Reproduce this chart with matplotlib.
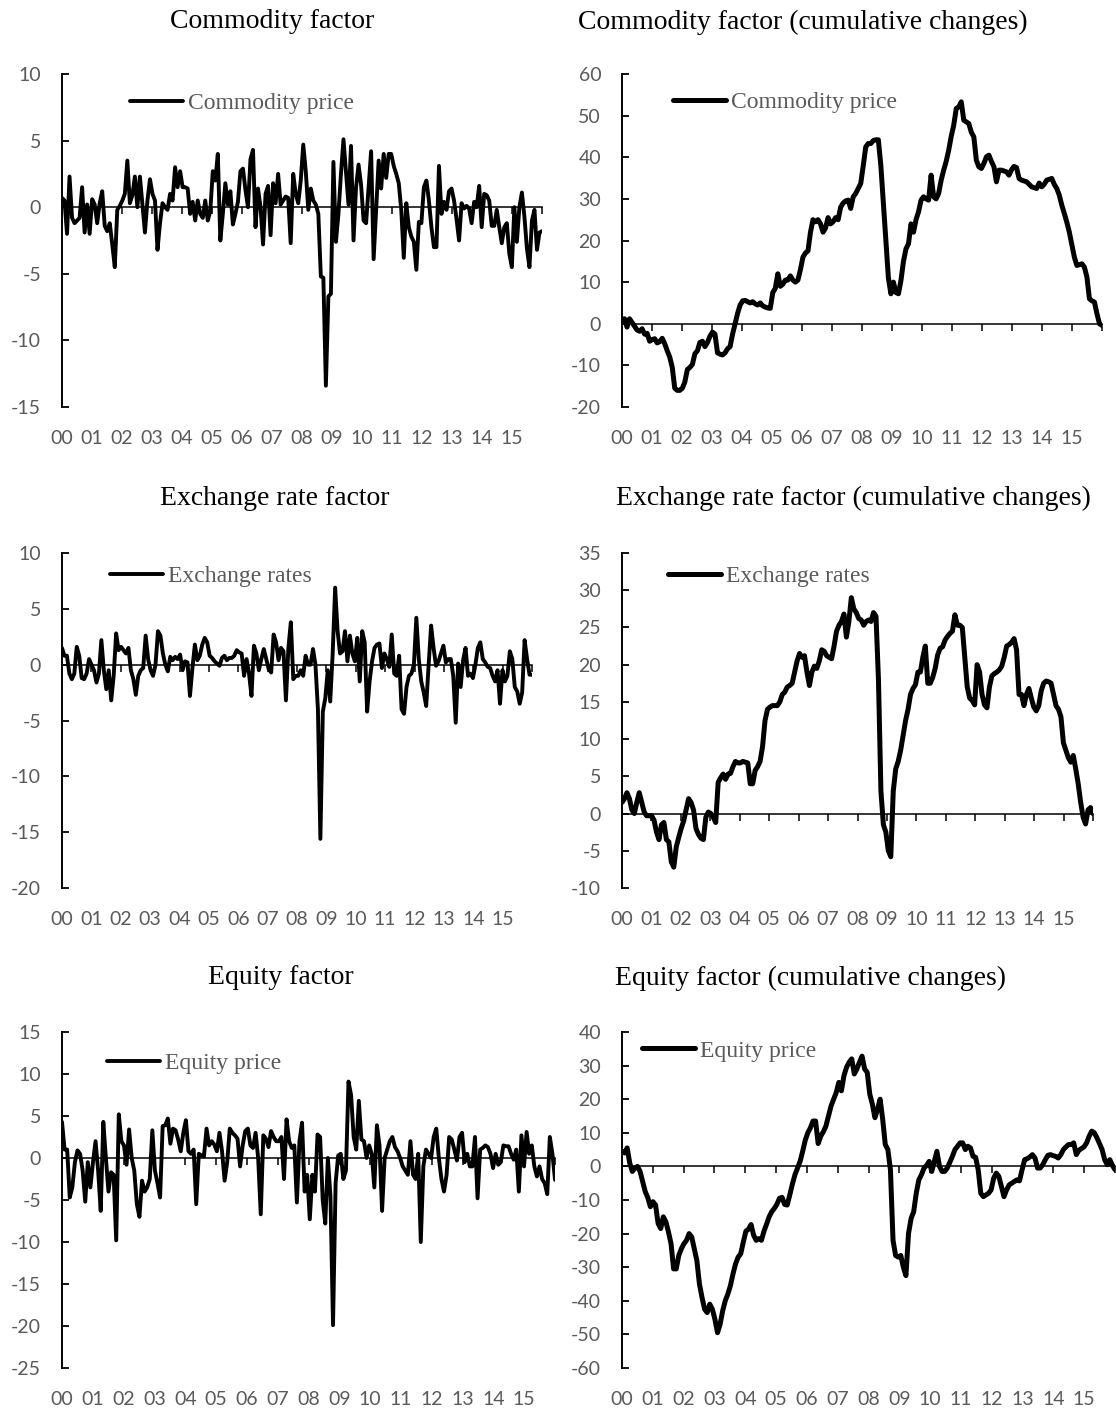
import numpy as np
import matplotlib
matplotlib.use("Agg")
import matplotlib.pyplot as plt

plt.rcParams["font.family"] = ["Lato", "DejaVu Sans"]
plt.rcParams["axes.unicode_minus"] = False

W, H = 1116, 1414
GRAY = "#595959"

# year labels on the x axis
year_labels = ["%02d" % (y % 100) for y in range(2000, 2016)]

# monthly factor changes, Jan 2000 - Dec 2015
commodity_chg = [
    0.7, 0.5, -2.0, 2.3, -0.8, -1.2, -1.0, -0.8, 1.5, -1.9, 0.2, -2.0,
    0.6, 0.2, -1.2, 0.3, 1.2, -1.4, -1.8, -1.2, -2.8, -4.5, -0.2, 0.1,
    0.5, 1.0, 3.5, 0.3, 0.9, 2.3, 0.0, 2.3, 0.2, -1.9, 0.5, 2.1,
    1.0, 0.5, -3.2, -1.2, 0.3, 0.0, -0.2, 1.0, 0.5, 3.0, 1.5, 2.7,
    1.5, 1.5, 1.4, -0.5, 0.4, -1.0, 0.5, -0.5, -0.8, 0.5, -1.0, -0.3,
    2.7, 2.0, 4.0, -2.5, -0.5, 1.8, 0.2, 1.2, -1.3, -0.5, 0.4, 2.7,
    2.9, 1.3, 0.0, 3.6, 4.3, -1.5, 1.4, 0.0, -2.8, 1.0, 1.6, -2.1,
    1.8, 0.3, 2.5, 0.2, 0.5, 0.8, 0.7, -2.7, 2.5, 1.0, 0.3, 2.0,
    4.7, 2.7, -0.2, 1.4, 0.5, 0.2, -0.5, -5.2, -5.3, -13.4, -6.7, -6.5,
    3.4, -2.6, -0.5, 2.5, 5.1, 2.7, 0.2, 4.6, -2.5, 1.5, 3.2, 1.7,
    -1.0, -1.2, 1.5, 4.2, -3.9, -0.2, 3.5, 1.4, 4.0, 2.2, 4.0, 4.0,
    3.1, 2.5, 1.8, -0.2, -3.8, 0.3, -1.5, -2.2, -2.6, -4.7, -1.1, -1.2,
    1.5, 2.0, 0.5, -1.5, -3.0, -3.0, 3.1, -0.5, 0.4, -0.2, 1.2, 1.4,
    0.5, -0.9, -2.5, 0.3, -0.1, 0.1, -0.1, -1.2, 0.4, 0.0, 1.6, -1.5,
    1.0, 0.9, 0.5, -1.4, -1.4, -0.2, -1.5, -2.7, -1.5, -1.2, -3.5, -4.5,
    0.0, -2.6, 0.0, 1.1, -0.7, -3.1, -4.5, -1.0, -0.2, -3.2, -1.9, -1.8,
]

commodity_cum = [
    1.0, 1.2, -0.8, 1.2, 0.3, -0.6, -1.5, -1.8, -1.2, -2.5, -2.3, -4.2,
    -3.8, -3.6, -4.6, -4.3, -3.5, -4.8, -6.5, -8.0, -10.5, -15.5, -16.0, -16.0,
    -15.5, -14.0, -11.0, -10.5, -9.8, -7.2, -6.5, -4.5, -4.2, -5.5, -4.5, -3.0,
    -2.0, -2.5, -7.0, -7.3, -7.5, -7.0, -6.0, -5.5, -2.5, 0.0, 2.5, 4.5,
    5.5, 5.6, 5.3, 5.0, 5.3, 4.8, 4.5, 5.0, 4.3, 4.0, 3.8, 3.7,
    7.5, 8.5, 12.0, 9.0, 9.5, 10.5, 10.5, 11.5, 10.5, 10.0, 10.5, 13.0,
    16.0, 17.0, 17.5, 22.0, 25.0, 24.5, 25.0, 24.0, 22.0, 23.0, 25.5, 24.0,
    24.5, 25.5, 25.0, 28.0, 29.0, 29.5, 29.7, 27.7, 30.5, 31.3, 32.5, 33.7,
    38.0, 42.5, 43.3, 43.3, 44.0, 44.2, 44.2, 38.0, 29.0, 20.0, 11.0, 7.2,
    10.0, 7.5, 7.2, 10.4, 15.0, 18.0, 19.2, 24.0, 22.0, 25.0, 26.9, 29.7,
    30.5, 30.0, 29.7, 35.7, 30.5, 30.0, 31.3, 34.5, 36.9, 39.0, 41.7, 45.0,
    47.7, 51.7, 52.1, 53.3, 48.9, 48.5, 48.1, 46.0, 44.9, 39.3, 37.7, 37.3,
    38.5, 40.1, 40.5, 39.0, 37.7, 34.1, 36.9, 36.9, 36.7, 36.5, 35.7, 37.0,
    37.8, 37.5, 34.9, 34.5, 34.3, 34.1, 33.5, 32.9, 32.7, 32.5, 33.8, 32.9,
    33.5, 34.5, 34.7, 34.9, 33.5, 32.5, 30.9, 28.5, 26.5, 24.4, 22.0, 19.0,
    16.0, 14.0, 14.2, 14.4, 13.6, 11.2, 6.0, 5.5, 5.2, 2.4, 0.0, -0.4,
]

fx_chg = [
    1.5, 0.8, 0.8, -0.8, -1.3, -0.8, 1.6, 0.8, -1.2, -1.3, -0.8, 0.5,
    0.0, -0.5, -1.6, -0.8, 2.2, -0.5, -2.2, -0.5, -3.2, -1.0, 2.8, 1.3,
    1.6, 1.3, 1.0, 1.5, -0.5, -1.3, -2.7, -1.0, -0.5, -0.3, 2.6, 0.5,
    -0.5, -1.0, 0.0, 3.0, 2.6, 1.0, 0.0, -0.6, 0.7, 0.4, 0.7, 0.5,
    0.9, -0.5, 0.3, 0.2, -2.8, -0.3, 1.8, 0.4, 0.8, 1.8, 2.4, 2.0,
    0.8, 0.6, 0.3, 0.1, -0.1, 0.6, 0.8, 0.4, 0.6, 0.6, 0.8, 1.3,
    1.1, 1.0, -1.0, 0.5, -0.8, -2.8, 1.7, 1.0, -0.5, 0.5, 1.4, 0.5,
    -0.4, -0.7, 2.7, 2.0, 0.4, 1.5, 1.2, -3.2, 1.5, 3.8, -1.3, -1.0,
    -1.0, -0.5, -1.0, 0.8, 0.0, 0.0, 1.4, 0.0, -4.0, -15.6, -4.2, -3.0,
    -0.5, -3.3, 1.0, 6.9, 3.0, 1.0, 1.2, 3.0, 0.3, 2.6, 1.0, 0.3,
    2.4, -1.5, 3.0, 2.0, -4.2, -1.5, 0.3, 1.5, 1.8, 1.9, -0.3, 1.0,
    0.5, -0.2, 2.7, -0.8, -1.0, 0.8, -4.0, -4.4, -2.0, -1.0, -0.8, 0.0,
    4.2, 0.5, -1.5, -2.5, -3.7, 0.0, 3.5, 1.5, -0.1, 0.3, 1.0, 1.7,
    0.2, 0.5, 0.5, -1.0, -5.2, 0.1, -2.0, 0.4, 1.5, -1.0, -0.8, -1.2,
    0.0, 1.5, 2.0, 0.5, 0.2, -0.2, -0.3, -1.0, -1.5, -0.5, -3.5, -0.5,
    -1.5, -1.0, 1.2, 0.5, -2.0, -2.4, -3.5, -2.5, 2.2, 0.5, -0.9, -0.9,
]

fx_cum = [
    1.5, 2.0, 2.8, 2.0, 0.5, 0.0, 1.5, 2.8, 1.5, 0.2, -0.3, -0.3,
    -0.3, -0.9, -2.5, -3.5, -1.5, -1.2, -3.5, -3.8, -6.5, -7.2, -4.5, -3.2,
    -2.0, -1.0, 0.5, 2.0, 1.5, 0.5, -2.0, -2.8, -3.3, -3.5, -0.5, 0.2,
    0.0, -0.5, -1.2, 4.2, 4.8, 5.3, 4.6, 5.3, 5.4, 6.3, 7.0, 6.8,
    6.8, 7.0, 6.9, 6.8, 4.0, 4.0, 5.8, 6.3, 7.0, 9.0, 12.5, 14.0,
    14.3, 14.5, 14.5, 14.5, 15.0, 16.0, 16.3, 17.0, 17.2, 17.5, 19.0, 20.5,
    21.5, 21.0, 21.2, 19.0, 17.2, 19.0, 19.8, 19.5, 20.5, 22.0, 21.8, 21.2,
    21.0, 20.8, 22.5, 24.5, 25.3, 25.8, 26.8, 23.7, 25.8, 29.0, 27.5, 27.0,
    26.2, 26.0, 25.3, 25.8, 26.0, 25.8, 27.0, 26.5, 18.0, 3.0, -1.5, -2.5,
    -5.0, -5.8, 3.0, 6.0, 7.0, 8.5, 10.5, 12.5, 14.0, 16.0, 16.8, 17.3,
    19.0, 19.0, 21.0, 22.5, 17.5, 17.5, 18.3, 19.5, 21.3, 22.2, 22.4, 23.3,
    23.8, 24.2, 24.5, 26.7, 25.3, 25.3, 25.0, 21.0, 17.0, 15.5, 15.2, 14.6,
    20.0, 19.0, 16.0, 14.6, 14.2, 17.0, 18.5, 18.8, 19.0, 19.3, 19.8, 21.0,
    22.5, 22.7, 23.0, 23.5, 22.0, 16.0, 16.0, 14.5, 16.0, 16.8, 15.5, 14.3,
    13.8, 14.5, 16.5, 17.5, 17.8, 17.7, 17.5, 16.0, 14.5, 14.0, 13.0, 9.5,
    8.5, 7.5, 6.9, 7.8, 6.0, 4.0, 1.5, -0.5, -1.4, 0.5, 0.8, 0.0,
]

equity_chg = [
    4.3, 1.0, 1.0, -4.7, -3.5, -0.5, 0.9, 0.5, -1.5, -5.2, -0.5, -3.5,
    -0.5, 2.0, -1.5, -6.3, 4.3, 0.0, -4.0, -1.7, -2.0, -9.8, 5.2, 2.0,
    1.5, -0.8, 3.4, 0.0, -1.5, -5.5, -7.0, -2.7, -4.0, -3.5, -2.5, 3.3,
    -1.5, -3.0, -4.7, 3.8, 3.9, 4.7, 1.7, 3.5, 3.3, 2.2, 0.8, 3.0,
    4.5, 0.8, 0.5, 1.0, -5.5, 0.5, 0.3, 0.2, 3.5, 1.5, 2.0, 1.6,
    0.8, 3.0, 0.8, -2.7, -0.5, 3.5, 3.0, 2.7, 2.3, -1.0, 1.5, 3.2,
    3.5, 1.5, 1.2, 3.0, 0.0, -6.7, 2.7, 2.3, 1.3, 3.2, 2.5, 2.0,
    2.0, 2.5, -2.5, 4.6, 2.0, 1.2, 1.5, -5.3, 2.0, 4.2, -4.0, -2.0,
    -7.3, -2.0, -4.0, 2.8, 2.5, -5.0, -7.8, 0.0, -4.5, -19.9, -3.0, 0.3,
    0.5, -2.5, -1.5, 9.1, 7.5, 2.5, 1.0, 6.8, 2.2, 2.0, 0.0, 1.5,
    0.5, -3.5, 3.9, 1.5, -6.3, 0.0, 1.0, 2.0, 2.5, 1.3, 0.8, 0.0,
    -1.0, -1.5, -2.0, 2.0, -2.0, -2.5, 0.5, -10.0, -1.0, 1.0, 0.5, 0.0,
    2.5, 3.5, 0.0, -2.5, -4.0, -2.0, 2.5, 2.2, 1.0, -0.3, 2.5, 3.0,
    -0.5, 0.5, -1.0, -1.0, 2.5, -4.8, 1.0, 1.2, 1.5, 1.3, 0.5, -1.2,
    0.5, -0.8, -0.5, 1.5, 1.4, 1.4, 0.5, -0.2, 1.0, -4.0, 2.7, -1.0,
    3.1, 0.5, 1.5, -1.0, -2.2, -1.0, -2.5, -3.0, -4.3, 2.5, 0.5, -2.6,
]

equity_cum = [
    4.5, 4.0, 5.5, 1.0, -1.5, -0.5, 0.0, -1.5, -4.5, -7.5, -9.3, -12.0,
    -10.5, -11.5, -17.0, -18.5, -15.0, -16.5, -19.5, -23.0, -30.5, -30.5, -26.5, -24.5,
    -23.0, -22.0, -20.0, -21.0, -24.5, -28.0, -35.0, -39.0, -42.5, -43.5, -41.0, -42.5,
    -45.5, -49.5, -47.0, -43.0, -40.0, -38.0, -35.5, -32.0, -29.0, -27.0, -26.0, -22.5,
    -19.3, -18.7, -17.3, -20.5, -22.0, -21.5, -22.0, -19.3, -17.2, -15.0, -13.5, -12.5,
    -11.3, -9.5, -9.2, -11.3, -11.5, -8.5, -5.3, -2.5, -0.5, 1.5, 4.5, 7.8,
    10.0, 11.5, 13.5, 13.5, 6.8, 9.0, 10.3, 12.0, 15.0, 18.0, 20.0, 22.0,
    25.0, 22.5, 27.0, 29.5, 31.0, 32.0, 27.5, 29.0, 31.0, 32.8, 29.0, 28.0,
    21.5, 18.5, 14.5, 17.0, 20.0, 14.0, 6.5, 5.0, -1.0, -22.0, -26.5, -27.0,
    -26.5, -30.0, -32.5, -20.0, -15.5, -13.5, -8.0, -4.0, -2.5, -0.5, 0.3, 1.5,
    -1.5, 1.5, 4.5, 0.0, -1.5, -1.5, -0.5, 1.2, 3.0, 5.0, 6.0, 7.0,
    7.0, 5.0, 6.0, 5.5, 3.0, 2.7, -1.0, -8.0, -9.0, -8.5, -8.0, -7.0,
    -3.5, -2.0, -3.0, -6.0, -9.0, -7.0, -5.5, -5.0, -4.5, -4.0, -4.3, -1.0,
    2.0, 2.3, 2.8, 3.5, 2.5, -0.5, -0.5, 0.5, 2.0, 3.3, 3.5, 3.2,
    3.0, 2.5, 3.5, 5.0, 5.8, 6.5, 6.5, 7.0, 3.5, 4.8, 5.3, 5.8,
    7.0, 9.0, 10.5, 10.0, 8.5, 6.8, 5.0, 2.0, 0.5, 2.0, 0.3, -1.0,
]

titles = ["Commodity factor", "Commodity factor (cumulative changes)",
          "Exchange rate factor", "Exchange rate factor (cumulative changes)",
          "Equity factor", "Equity factor (cumulative changes)"]
legend_names = ["Commodity price", "Commodity price",
                "Exchange rates", "Exchange rates",
                "Equity price", "Equity price"]
series = [commodity_chg, commodity_cum, fx_chg, fx_cum, equity_chg, equity_cum]
y_ranges = [(-15, 10, 5), (-20, 60, 10), (-20, 10, 5),
            (-10, 35, 5), (-25, 15, 5), (-60, 40, 10)]

# layout in pixels: axes box (x0, x1, y0, y1), title centre, legend line start
boxes = [(62, 542, 74, 407), (622, 1102, 74, 407),
         (62, 532, 553, 888), (622, 1093, 553, 888),
         (62, 555, 1032, 1368), (622, 1115, 1032, 1368)]
title_pos = [(272, 22), (803, 22), (275, 498), (853, 498), (281, 978), (811, 978)]
legend_pos = [(130, 103), (673, 102), (110, 576), (668, 576), (107, 1063), (642, 1051)]
line_w = [2.8, 3.6, 2.8, 3.6, 2.8, 3.6]

fig = plt.figure(figsize=(W / 100, H / 100), dpi=100)

for i in range(6):
    x0, x1, y0, y1 = boxes[i]
    ax = fig.add_axes([x0 / W, 1 - y1 / H, (x1 - x0) / W, (y1 - y0) / H])
    vals = series[i]
    x = np.linspace(2000, 2016, len(vals))
    ax.plot(x, vals, color="black", lw=line_w[i], solid_joinstyle="round",
            solid_capstyle="round", label=legend_names[i])

    lo, hi, step = y_ranges[i]
    ax.set_xlim(2000, 2016)
    ax.set_ylim(lo, hi)
    ax.set_yticks(np.arange(lo, hi + step / 2, step))

    ax.spines["top"].set_visible(False)
    ax.spines["right"].set_visible(False)
    ax.spines["bottom"].set_position(("data", 0))
    ax.spines["bottom"].set_linewidth(1.1)
    ax.spines["left"].set_linewidth(1.4)

    ax.set_xticks(range(2001, 2017))
    ax.set_xticklabels([])
    ax.tick_params(axis="x", direction="out", length=5, width=1.1)
    ax.tick_params(axis="y", direction="in", length=5, width=1.3, pad=15,
                   labelsize=14, labelcolor=GRAY)

    for yr, lbl in zip(range(2000, 2016), year_labels):
        ax.annotate(lbl, xy=(yr, 0), xycoords=ax.get_xaxis_transform(),
                    xytext=(0, -22.5), textcoords="offset points",
                    ha="center", va="center", fontsize=14, color=GRAY)

    lx, ly = legend_pos[i]
    leg = ax.legend(loc="center left", bbox_to_anchor=(lx / W, 1 - ly / H),
                    bbox_transform=fig.transFigure, frameon=False,
                    borderpad=0, borderaxespad=0, handlelength=2.25,
                    handletextpad=0.2,
                    prop={"family": "Liberation Serif", "size": 17})
    for t in leg.get_texts():
        t.set_color(GRAY)

    tx, ty = title_pos[i]
    fig.text(tx / W, 1 - ty / H, titles[i], ha="center", va="center",
             fontsize=20, family="Liberation Serif")

fig.savefig("out.png", dpi=100)
